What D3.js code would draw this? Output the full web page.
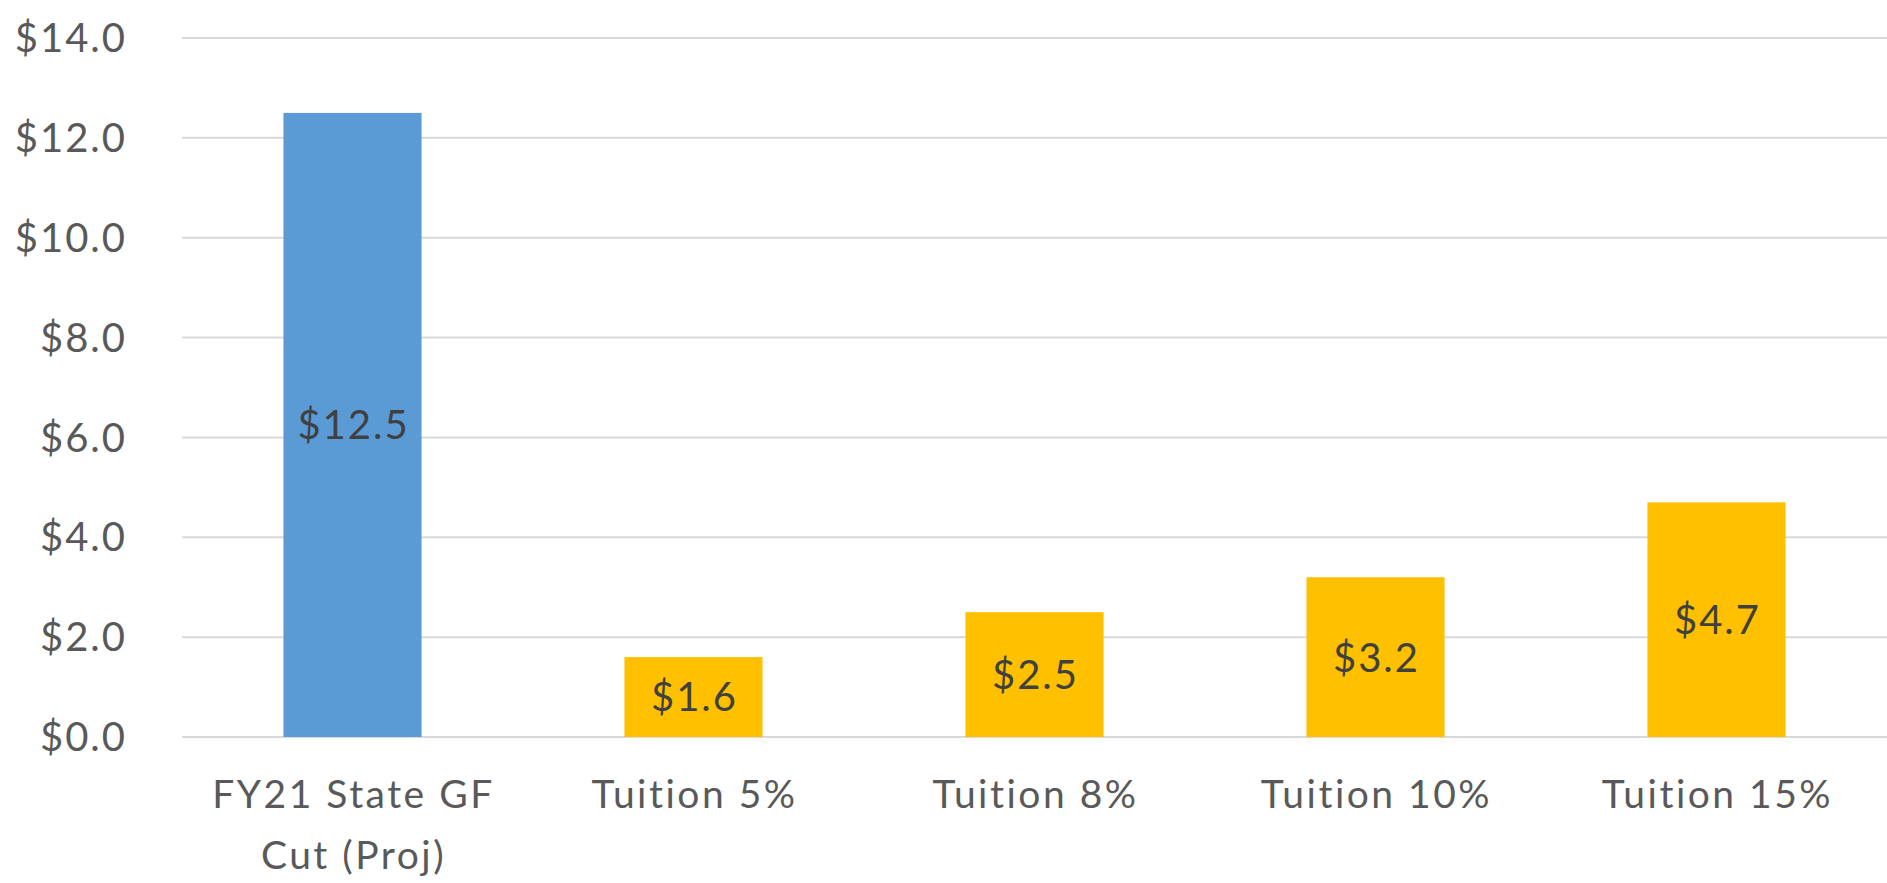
<!DOCTYPE html>
<html>
<head>
<meta charset="utf-8">
<script src="https://cdn.jsdelivr.net/npm/d3@7"></script>
<style>
  body { margin: 0; background: #fff; }
  svg { display: block; font-family: Lato, "Open Sans", sans-serif; }
</style>
</head>
<body>
<div id="chart"></div>
<script>
// Chart data
const categories = ["FY21 State GF|Cut (Proj)", "Tuition 5%", "Tuition 8%", "Tuition 10%", "Tuition 15%"];
const values = [12.5, 1.6, 2.5, 3.2, 4.7];
const barColors = ["#5B9BD5", "#FFC000", "#FFC000", "#FFC000", "#FFC000"];
const yTicks = [0, 2, 4, 6, 8, 10, 12, 14];

const width = 1887, height = 883;
const margin = { top: 38, right: 0, bottom: 146, left: 182 };

const svg = d3.select("#chart")
    .append("svg")
    .attr("width", width)
    .attr("height", height);

// Scales
const x = d3.scaleBand()
    .domain(categories)
    .range([margin.left, width - margin.right])
    .paddingInner(0.595)
    .paddingOuter(0.2975);

const y = d3.scaleLinear()
    .domain([0, 14])
    .range([height - margin.bottom, margin.top]);

// Gridlines
svg.append("g")
    .selectAll("line")
    .data(yTicks)
    .enter()
    .append("line")
    .attr("x1", margin.left)
    .attr("x2", width - margin.right)
    .attr("y1", d => y(d))
    .attr("y2", d => y(d))
    .attr("stroke", "#d9d9d9")
    .attr("stroke-width", 2);

// Y axis labels
const yAxis = svg.append("g")
    .attr("transform", "translate(" + (margin.left - 55) + ",0)")
    .call(d3.axisLeft(y).tickValues(yTicks).tickSize(0).tickPadding(0)
        .tickFormat(d => "$" + d3.format(".1f")(d)));
yAxis.select(".domain").remove();
yAxis.selectAll("text")
    .attr("fill", "#595959")
    .attr("dy", "0.34em")
    .style("font-size", "40px")
    .style("letter-spacing", "2px")
    .style("font-family", "Lato, sans-serif");

// Bars
svg.selectAll(".bar")
    .data(values)
    .enter()
    .append("rect")
    .attr("class", "bar")
    .attr("x", (d, i) => x(categories[i]))
    .attr("y", d => y(d))
    .attr("width", x.bandwidth())
    .attr("height", d => y(0) - y(d))
    .attr("fill", (d, i) => barColors[i]);

// Data labels (centered in the bar)
svg.selectAll(".label")
    .data(values)
    .enter()
    .append("text")
    .attr("class", "label")
    .attr("x", (d, i) => x(categories[i]) + x.bandwidth() / 2 + 1)
    .attr("y", d => (y(d) + y(0)) / 2)
    .attr("dy", "0.36em")
    .attr("text-anchor", "middle")
    .attr("fill", "#404040")
    .style("font-size", "40px")
    .style("letter-spacing", "2px")
    .text(d => "$" + d3.format(".1f")(d));

// Category labels (split on "|" into lines)
const xLabels = svg.selectAll(".cat")
    .data(categories)
    .enter()
    .append("text")
    .attr("class", "cat")
    .attr("x", d => x(d) + x.bandwidth() / 2)
    .attr("y", 808)
    .attr("text-anchor", "middle")
    .attr("fill", "#595959")
    .style("font-size", "39px")
    .style("letter-spacing", "2.5px");

xLabels.each(function(d) {
    const lines = d.split("|");
    d3.select(this).selectAll("tspan")
        .data(lines)
        .enter()
        .append("tspan")
        .attr("x", x(d) + x.bandwidth() / 2 + 1)
        .attr("dy", (l, i) => i === 0 ? 0 : 61)
        .text(l => l);
});
</script>
</body>
</html>
